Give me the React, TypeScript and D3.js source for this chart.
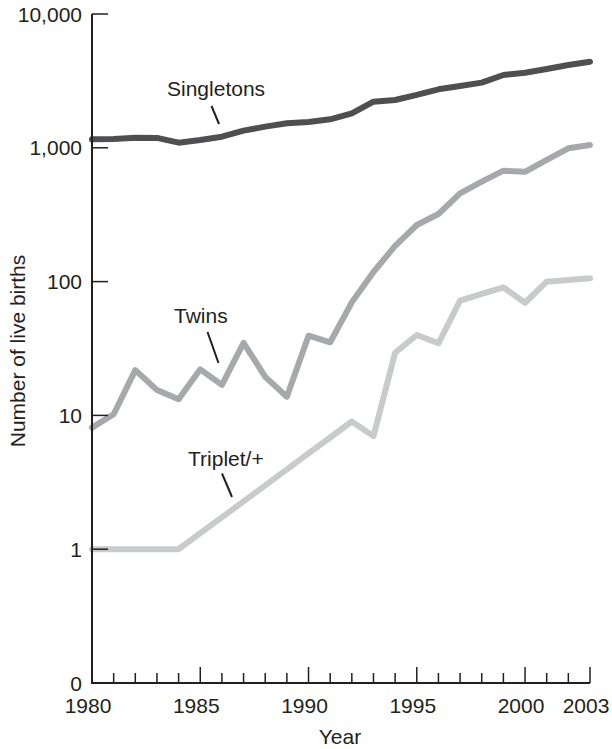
import React from "react";
import * as d3 from "d3";

const years: number[] = d3.range(1980, 2004);

const singletons: number[] = [
  1157, 1165, 1190, 1185, 1092, 1143, 1210, 1343, 1439, 1525, 1560, 1633,
  1811, 2213, 2276, 2483, 2737, 2897, 3069, 3499, 3640, 3880, 4157, 4395,
];
const twins: number[] = [
  8.1, 10.2, 21.8, 15.5, 13.2, 22.1, 16.9, 34.9, 19.4, 13.8, 39.4, 35.2,
  70, 118, 185, 265, 320, 457, 558, 675, 662, 811, 991, 1050,
];
const triplets: number[] = [
  1, 1, 1, 1, 1, 1.32, 1.73, 2.28, 3.0, 3.95, 5.2, 6.84,
  9.0, 7.0, 29.4, 39.9, 34.6, 72, 80.8, 90.6, 69.5, 99.8, 102.8, 106,
];

const yTickValues: number[] = [10000, 1000, 100, 10, 1, 0.1];
const yTickLabels: string[] = ["10,000", "1,000", "100", "10", "1", "0"];
const xLabelYears: number[] = [1980, 1985, 1990, 1995, 2000, 2003];
const majorYears: number[] = [1985, 1990, 1995, 2000, 2003];

const seriesNames: string[] = ["Singletons", "Twins", "Triplet/+"];
const seriesColors: string[] = ["#4f4f51", "#a7a8ab", "#c9cacc"];

const W = 612;
const H = 749;
const FONT = "'Liberation Sans', Arial, Helvetica, sans-serif";
const INK = "#231f20";

export default function App() {
  const x = d3.scaleLinear().domain([1980, 2003]).range([92, 590]);
  const y = d3.scaleLog().domain([0.1, 10000]).range([683, 14]);

  const line = d3
    .line<[number, number]>()
    .x((d) => x(d[0]))
    .y((d) => y(d[1]));

  const allSeries = [singletons, twins, triplets];

  const annotations = [
    { text: seriesNames[0], tx: 167, ty: 96, l: [211.5, 106, 219, 124] },
    { text: seriesNames[1], tx: 174, ty: 323, l: [207.5, 332, 218.5, 363] },
    { text: seriesNames[2], tx: 188, ty: 466, l: [222, 473.5, 232, 497] },
  ];

  return (
    <svg
      width={W}
      height={H}
      style={{ position: "absolute", left: 0, top: 0, background: "#fff" }}
      fontFamily={FONT}
    >
      <rect x={0} y={0} width={W} height={H} fill="#fff" />
      {allSeries.map((vals, i) => (
        <path
          key={i}
          d={line(years.map((yr, j) => [yr, vals[j]] as [number, number])) || ""}
          fill="none"
          stroke={seriesColors[i]}
          strokeWidth={6}
          strokeLinejoin="round"
          strokeLinecap="round"
        />
      ))}

      <line x1={x(1980)} x2={x(1980)} y1={y(10000)} y2={y(0.1) + 1} stroke={INK} strokeWidth={2} />
      <line x1={x(1980) - 1} x2={x(2003)} y1={y(0.1)} y2={y(0.1)} stroke={INK} strokeWidth={2} />

      {yTickValues.map((v, i) => (
        <g key={v}>
          {v >= 1 && (
            <line x1={x(1980)} x2={x(1980) + 16} y1={y(v)} y2={y(v)} stroke={INK} strokeWidth={1.5} />
          )}
          <text x={82} y={y(v) + 7.5} textAnchor="end" fontSize={21} fill={INK}>
            {yTickLabels[i]}
          </text>
        </g>
      ))}

      {years.slice(1).map((yr) => {
        const major = majorYears.includes(yr);
        return (
          <line
            key={yr}
            x1={x(yr)}
            x2={x(yr)}
            y1={y(0.1)}
            y2={y(0.1) - (major ? 16 : 10)}
            stroke={INK}
            strokeWidth={1.5}
          />
        );
      })}
      {xLabelYears.map((yr) => (
        <text key={yr} x={x(yr) - 4} y={713} textAnchor="middle" fontSize={21} fill={INK}>
          {String(yr)}
        </text>
      ))}

      <text x={340} y={744} textAnchor="middle" fontSize={21} fill={INK}>
        Year
      </text>
      <text transform={`translate(25, 351) rotate(-90)`} textAnchor="middle" fontSize={21} fill={INK}>
        Number of live births
      </text>

      {annotations.map((a) => (
        <g key={a.text}>
          <text x={a.tx} y={a.ty} fontSize={21} fill={INK}>
            {a.text}
          </text>
          <line x1={a.l[0]} y1={a.l[1]} x2={a.l[2]} y2={a.l[3]} stroke={INK} strokeWidth={2} />
        </g>
      ))}
    </svg>
  );
}
